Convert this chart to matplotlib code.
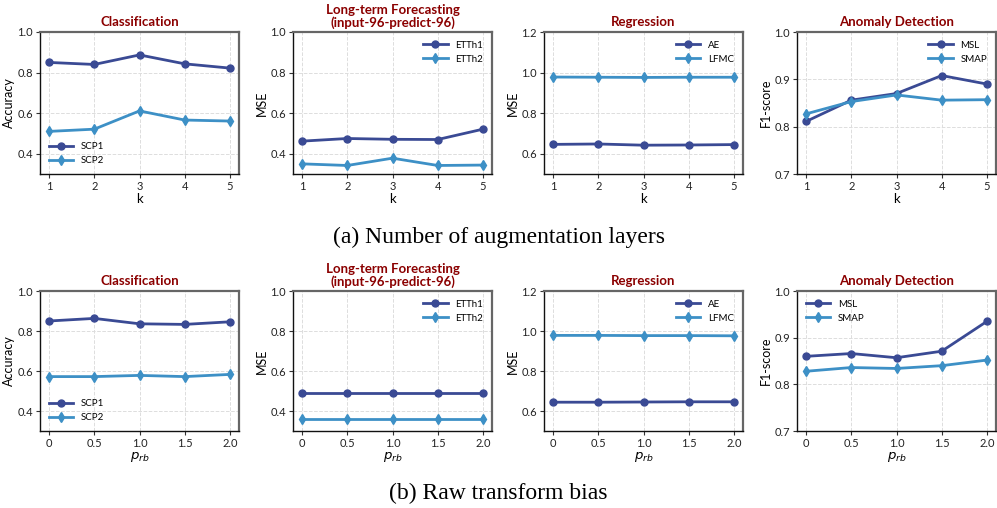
import matplotlib
matplotlib.use("Agg")
import matplotlib.pyplot as plt

plt.rcParams['font.family'] = ['Lato', 'DejaVu Sans']
plt.rcParams['mathtext.fontset'] = 'dejavusans'

k_vals = [1, 2, 3, 4, 5]
prb_vals = [0, 0.5, 1.0, 1.5, 2.0]

# (a) number of augmentation layers
cls_scp1_a = [0.850, 0.840, 0.887, 0.843, 0.822]
cls_scp2_a = [0.510, 0.521, 0.611, 0.566, 0.561]
ltf_etth1_a = [0.462, 0.475, 0.471, 0.470, 0.521]
ltf_etth2_a = [0.350, 0.342, 0.378, 0.342, 0.344]
reg_ae_a = [0.646, 0.648, 0.642, 0.643, 0.645]
reg_lfmc_a = [0.978, 0.977, 0.976, 0.977, 0.977]
ad_msl_a = [0.811, 0.856, 0.870, 0.908, 0.890]
ad_smap_a = [0.827, 0.853, 0.867, 0.856, 0.857]

# (b) raw transform bias
cls_scp1_b = [0.850, 0.863, 0.836, 0.833, 0.846]
cls_scp2_b = [0.572, 0.572, 0.578, 0.572, 0.583]
ltf_etth1_b = [0.488, 0.488, 0.488, 0.488, 0.488]
ltf_etth2_b = [0.362, 0.362, 0.362, 0.362, 0.362]
reg_ae_b = [0.644, 0.644, 0.645, 0.646, 0.646]
reg_lfmc_b = [0.978, 0.978, 0.977, 0.977, 0.976]
ad_msl_b = [0.860, 0.866, 0.857, 0.871, 0.935]
ad_smap_b = [0.828, 0.836, 0.834, 0.840, 0.852]

titles = ["Classification", "Long-term Forecasting\n(input-96-predict-96)",
          "Regression", "Anomaly Detection"]
ylabels = ["Accuracy", "MSE", "MSE", "F1-score"]
ylims = [(0.3, 1.0), (0.3, 1.0), (0.5, 1.2), (0.7, 1.0)]
yticks = [[0.4, 0.6, 0.8, 1.0], [0.4, 0.6, 0.8, 1.0],
          [0.6, 0.8, 1.0, 1.2], [0.7, 0.8, 0.9, 1.0]]
names = [("SCP1", "SCP2"), ("ETTh1", "ETTh2"), ("AE", "LFMC"), ("MSL", "SMAP")]

rows = [
    dict(x=k_vals, xlim=(0.8, 5.2), xlabel="k",
         data=[(cls_scp1_a, cls_scp2_a), (ltf_etth1_a, ltf_etth2_a),
               (reg_ae_a, reg_lfmc_a), (ad_msl_a, ad_smap_a)],
         legloc=["lower left", "upper right", "upper right", "upper right"],
         bottom=174, top=32, caption="(a) Number of augmentation layers", cap_y=237),
    dict(x=prb_vals, xlim=(-0.1, 2.1), xlabel=r"$p_{rb}$",
         data=[(cls_scp1_b, cls_scp2_b), (ltf_etth1_b, ltf_etth2_b),
               (reg_ae_b, reg_lfmc_b), (ad_msl_b, ad_smap_b)],
         legloc=["lower left", "upper right", "upper right", "upper left"],
         bottom=431, top=291, caption="(b) Raw transform bias", cap_y=493),
]

W, H = 997, 508
fig = plt.figure(figsize=(W / 100, H / 100), dpi=100)
lefts = [40, 293, 544, 797]
width = 199
c1 = "#3a4a94"
c2 = "#3d90c6"

for row in rows:
    for j in range(4):
        ax = fig.add_axes([lefts[j] / W, 1 - row["bottom"] / H, width / W,
                           (row["bottom"] - row["top"]) / H])
        s1, s2 = row["data"][j]
        n1, n2 = names[j]
        ax.plot(row["x"], s1, color=c1, marker="o", markersize=5, linewidth=2, label=n1)
        ax.plot(row["x"], s2, color=c2, marker="d", markersize=5, linewidth=2, label=n2)
        ax.set_xlim(row["xlim"])
        ax.set_ylim(ylims[j])
        ax.set_xticks(row["x"])
        if row["x"] == prb_vals:
            ax.set_xticklabels(["0", "0.5", "1.0", "1.5", "2.0"])
        ax.set_yticks(yticks[j])
        ax.set_yticklabels([f"{v:.1f}" for v in yticks[j]])
        ax.tick_params(labelsize=8, length=3, pad=2, color="#333333", labelcolor="#222222")
        ax.grid(True, linestyle="--", color="#dddddd", linewidth=0.7)
        ax.set_axisbelow(True)
        ax.set_xlabel(row["xlabel"], fontsize=9.5, labelpad=1)
        ax.set_ylabel(ylabels[j], fontsize=9, labelpad=2)
        ax.set_title(titles[j], fontsize=9.5, fontweight="bold", color="#8b0000",
                     pad=4, linespacing=1.0)
        for side in ["left", "bottom"]:
            ax.spines[side].set_color("#111111")
            ax.spines[side].set_linewidth(1.0)
        for side in ["top", "right"]:
            ax.spines[side].set_color("#666666")
            ax.spines[side].set_linewidth(1.6)
        ax.legend(loc=row["legloc"][j], frameon=False, fontsize=7, handlelength=2.5)
    fig.text(0.5, 1 - row["cap_y"] / H, row["caption"], ha="center", va="center",
             fontsize=17, family="Liberation Serif")

fig.savefig("out.png", dpi=100)
